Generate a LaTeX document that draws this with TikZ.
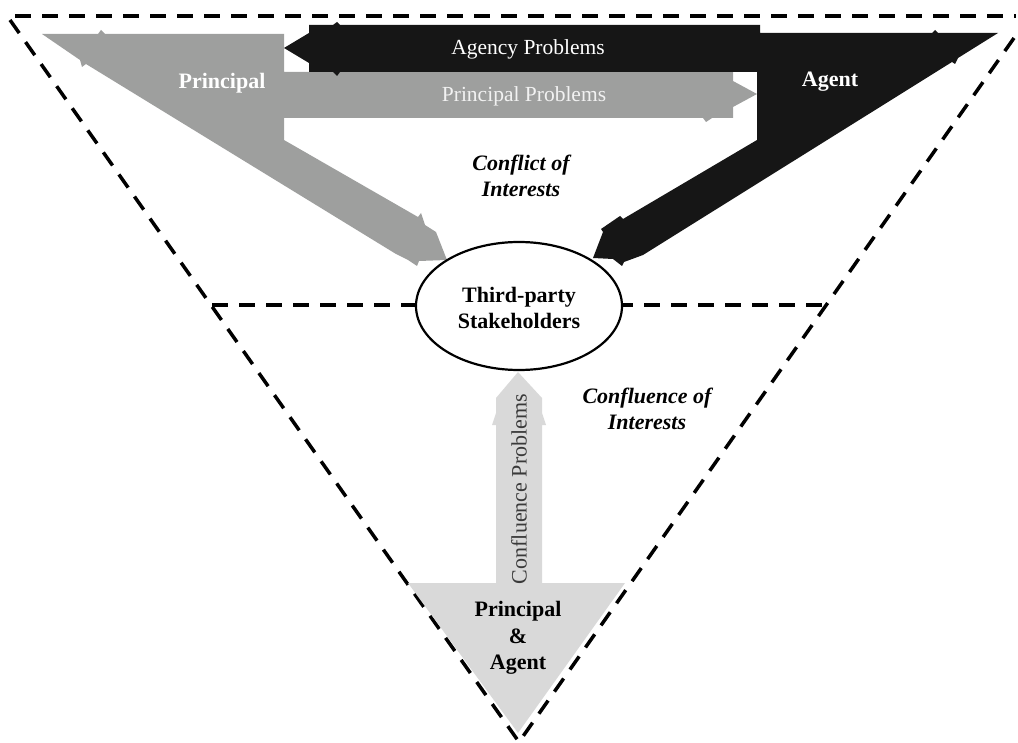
\documentclass[tikz,border=0pt]{standalone}
\usepackage{fontspec}
\setmainfont{Liberation Serif}
\usetikzlibrary{shapes.geometric}
\definecolor{pgray}{RGB}{158,159,158}
\definecolor{blk}{RGB}{22,22,22}
\definecolor{lgray}{RGB}{217,217,217}
\definecolor{cptext}{RGB}{58,58,58}
\definecolor{pptext}{RGB}{242,242,242}
\tikzset{
  frame/.style={line width=3.5pt, dash pattern=on 16pt off 11pt, black},
  bigbold/.style={font=\fontsize{22}{26.5}\selectfont\bfseries, align=center, inner sep=0pt},
  bigit/.style={font=\fontsize{22}{26}\selectfont\bfseries\itshape, align=center, inner sep=0pt},
  bigreg/.style={font=\fontsize{21.5}{26}\selectfont, align=center, inner sep=0pt},
  tpbox/.style={ellipse, draw=black, line width=2.2pt, fill=white, minimum width=206pt, minimum height=128pt, inner sep=0pt}
}
\begin{document}
\begin{tikzpicture}[x=1pt,y=-1pt]
\useasboundingbox (0,0) rectangle (1018,743);
% outer dashed frame
\coordinate (tl) at (15,16);
\coordinate (tr) at (1016,16);
\coordinate (lt) at (10,20);
\coordinate (rt) at (1014,38);
\coordinate (apex) at (519,742);
\coordinate (ml) at (212,305);
\coordinate (mr) at (826,305);
\draw[frame] (tl) -- (tr);
\draw[frame] (lt) -- (apex);
\draw[frame] (rt) -- (apex);
% principal (gray) shape
\fill[pgray] (42,34) -- (98,34) -- (101,30) -- (105,34) -- (284,34) -- (284,72)
  -- (733,72) -- (733,81) -- (757,94) -- (733,107) -- (733,118) -- (712,118) -- (706,122) -- (703,118)
  -- (284,118) -- (284,140) -- (418,217) -- (421,213) -- (425,225) -- (436,232) -- (447,260)
  -- (419,261) -- (417,266) -- (408,260) -- (396,254) -- (86,64) -- (82,67) -- (80,60) -- cycle;
% agent (black) shape
\fill[blk] (309,25) -- (333,25) -- (337,22) -- (340,25) -- (760,25) -- (760,33) -- (932,33) -- (935,30) -- (938,33)
  -- (998,33) -- (958,58) -- (955,64) -- (952,62) -- (643,255) -- (624,262) -- (622,266) -- (613,259) -- (593,258)
  -- (603,232) -- (601,229) -- (620,216) -- (623,219) -- (757,140) -- (757,72)
  -- (340,72) -- (337,76) -- (333,72) -- (309,72) -- (309,63) -- (284,48) -- (309,33) -- cycle;
% confluence (light gray) shape
\fill[lgray] (496,583) -- (496,425) -- (492,425) -- (496,413) -- (496,398) -- (518,372) -- (542,398)
  -- (542,413) -- (546,425) -- (542,425) -- (542,583) -- (625,583) -- (518,733) -- (408,583) -- cycle;
% middle dashed line and ellipse
\draw[frame] (ml) -- (mr);
\node[tpbox] (tp) at (519,306) {};
\node[bigbold] (tpt) at (519,308) {Third-party\\Stakeholders};
% labels
\node[bigbold, text=white] (pr) at (222,83) {Principal};
\node[bigbold, text=white] (ag) at (830,82) {Agent};
\node[bigreg, text=white] (ap) at (528,49) {Agency Problems};
\node[bigreg, text=pptext] (pp) at (524,96) {Principal Problems};
\node[bigit] (coi) at (521,176) {Conflict of\\Interests};
\node[bigit] (cfi) at (647,409) {Confluence of\\Interests};
\node[bigreg, text=cptext, rotate=90, font=\fontsize{22}{26}\selectfont] (cp) at (519,489) {Confluence Problems};
\node[bigbold] (pa) at (518,638) {Principal\\\&\\Agent};
\end{tikzpicture}
\end{document}
